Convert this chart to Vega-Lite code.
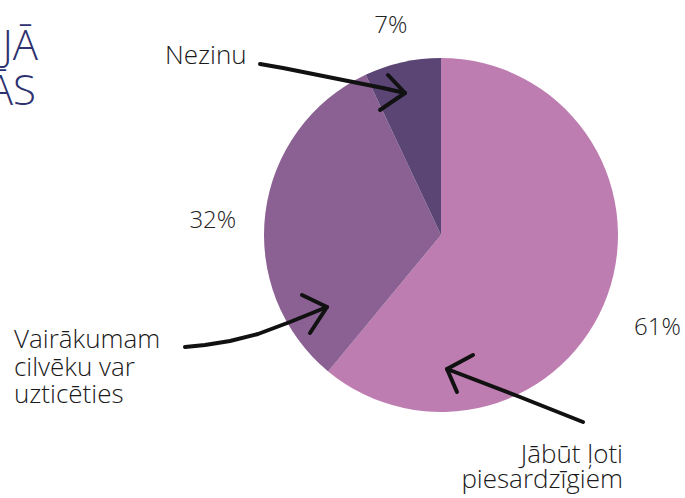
{
  "$schema": "https://vega.github.io/schema/vega-lite/v6.json",
  "width": 685,
  "height": 498,
  "padding": 0,
  "autosize": {"type": "none"},
  "background": "white",
  "config": {"view": {"stroke": null}, "text": {"font": "Open Sans", "fontWeight": 300}},
  "datasets": {
    "slices": [
      {"answer": "Jābūt ļoti piesardzīgiem", "pct": 61, "label": "61%"},
      {"answer": "Vairākumam cilvēku var uzticēties", "pct": 32, "label": "32%"},
      {"answer": "Nezinu", "pct": 7, "label": "7%"}
    ],
    "arrows": [
      {"s": "a1", "i": 0, "ax": 260, "ay": 64},
      {"s": "a1", "i": 1, "ax": 283, "ay": 68},
      {"s": "a1", "i": 2, "ax": 333, "ay": 78},
      {"s": "a1", "i": 3, "ax": 383, "ay": 88},
      {"s": "a1", "i": 4, "ax": 405, "ay": 93},
      {"s": "a1h", "i": 0, "ax": 388, "ay": 75},
      {"s": "a1h", "i": 1, "ax": 405, "ay": 93},
      {"s": "a1h", "i": 2, "ax": 380, "ay": 110},
      {"s": "a2", "i": 0, "ax": 185, "ay": 347},
      {"s": "a2", "i": 1, "ax": 205, "ay": 345},
      {"s": "a2", "i": 2, "ax": 230, "ay": 341},
      {"s": "a2", "i": 3, "ax": 258, "ay": 334},
      {"s": "a2", "i": 4, "ax": 290, "ay": 322},
      {"s": "a2", "i": 5, "ax": 327, "ay": 307},
      {"s": "a2h", "i": 0, "ax": 302, "ay": 295},
      {"s": "a2h", "i": 1, "ax": 327, "ay": 307},
      {"s": "a2h", "i": 2, "ax": 310, "ay": 333},
      {"s": "a3", "i": 0, "ax": 583, "ay": 422},
      {"s": "a3", "i": 1, "ax": 520, "ay": 397},
      {"s": "a3", "i": 2, "ax": 447, "ay": 369},
      {"s": "a3h", "i": 0, "ax": 473, "ay": 355},
      {"s": "a3h", "i": 1, "ax": 447, "ay": 369},
      {"s": "a3h", "i": 2, "ax": 457, "ay": 392}
    ],
    "notesLeft": [
      {"t": "Nezinu", "nx": 165, "ny": 64},
      {"t": "Vairākumam", "nx": 14, "ny": 348},
      {"t": "cilvēku var", "nx": 14, "ny": 376},
      {"t": "uzticēties", "nx": 14, "ny": 403}
    ],
    "notesRight": [
      {"t": "Jābūt ļoti", "nx": 623, "ny": 463},
      {"t": "piesardzīgiem", "nx": 623, "ny": 488}
    ],
    "title": [
      {"t": "JĀ", "nx": 38, "ny": 60},
      {"t": "ĀS", "nx": 36, "ny": 105}
    ]
  },
  "layer": [
    {
      "data": {"name": "slices"},
      "mark": {"type": "arc", "outerRadius": 177},
      "encoding": {
        "theta": {"field": "pct", "type": "quantitative", "stack": true},
        "order": {"field": "pct", "sort": "descending"},
        "color": {
          "field": "answer",
          "type": "nominal",
          "scale": {
            "domain": ["Jābūt ļoti piesardzīgiem", "Vairākumam cilvēku var uzticēties", "Nezinu"],
            "range": ["#BE7DB0", "#8A6192", "#5B4575"]
          },
          "legend": null
        },
        "x": {"datum": 441, "type": "quantitative", "scale": {"domain": [0, 685], "nice": false, "zero": false}, "axis": null},
        "y": {"datum": 235, "type": "quantitative", "scale": {"domain": [0, 498], "nice": false, "zero": false, "reverse": true}, "axis": null}
      }
    },
    {
      "data": {"name": "slices"},
      "mark": {"type": "text", "radius": 230, "fontSize": 24, "color": "#222222", "align": "center", "baseline": "middle"},
      "encoding": {
        "theta": {"field": "pct", "type": "quantitative", "stack": true},
        "order": {"field": "pct", "sort": "descending"},
        "text": {"field": "label"},
        "x": {"datum": 441, "type": "quantitative"},
        "y": {"datum": 250, "type": "quantitative"}
      }
    },
    {
      "data": {"name": "arrows"},
      "mark": {"type": "line", "color": "#111111", "strokeWidth": 4, "strokeCap": "round", "strokeJoin": "round"},
      "encoding": {
        "x": {"field": "ax", "type": "quantitative"},
        "y": {"field": "ay", "type": "quantitative"},
        "detail": {"field": "s"},
        "order": {"field": "i"}
      }
    },
    {
      "data": {"name": "notesLeft"},
      "mark": {"type": "text", "fontSize": 26, "color": "#1a1a1a", "align": "left", "baseline": "alphabetic"},
      "encoding": {
        "x": {"field": "nx", "type": "quantitative"},
        "y": {"field": "ny", "type": "quantitative"},
        "text": {"field": "t"}
      }
    },
    {
      "data": {"name": "notesRight"},
      "mark": {"type": "text", "fontSize": 26, "color": "#1a1a1a", "align": "right", "baseline": "alphabetic"},
      "encoding": {
        "x": {"field": "nx", "type": "quantitative"},
        "y": {"field": "ny", "type": "quantitative"},
        "text": {"field": "t"}
      }
    },
    {
      "data": {"name": "title"},
      "mark": {"type": "text", "fontSize": 42, "color": "#2E3270", "align": "right", "baseline": "alphabetic"},
      "encoding": {
        "x": {"field": "nx", "type": "quantitative"},
        "y": {"field": "ny", "type": "quantitative"},
        "text": {"field": "t"}
      }
    }
  ]
}
